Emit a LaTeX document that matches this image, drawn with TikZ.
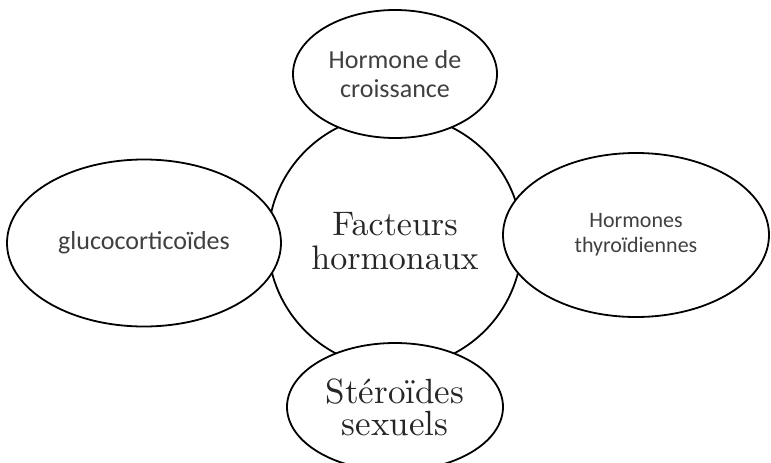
\documentclass[tikz,border=0pt]{standalone}
\usepackage{fontspec}
\newfontfamily\carlito{Carlito}
\newfontfamily\lmten{lmroman10-regular}[Extension=.otf]
\usetikzlibrary{shapes.geometric}
\tikzset{
  every picture/.style={line width=1.8pt},
  hub/.style={draw, circle, fill=white, minimum size=254pt, inner sep=0pt, align=center,
              text=black!85, font=\lmten\fontsize{34}{34}\selectfont},
  bubble/.style={draw, ellipse, fill=white, inner sep=0pt, align=center},
  sans/.style={text=black!75},
}

\begin{document}
\begin{tikzpicture}[x=1pt, y=-1pt]
  \useasboundingbox (0,0) rectangle (771,463);
  % the hub first, the bubbles sit on top of it
  \node[hub] (hub) at (395,241) {Facteurs\\ hormonaux};
  \node[bubble, sans, minimum width=204pt, minimum height=128pt,
        font=\carlito\fontsize{26}{29}\selectfont] (gh) at (395,74) {Hormone de\\ croissance};
  \node[bubble, sans, minimum width=274pt, minimum height=167pt,
        font=\carlito\fontsize{26}{29}\selectfont] (gluco) at (144,243) {glucocorticoïdes};
  \node[bubble, sans, minimum width=266pt, minimum height=164pt,
        font=\carlito\fontsize{22}{25}\selectfont] (thyro) at (636,235) {Hormones\\ thyroïdiennes};
  \node[bubble, minimum width=216pt, minimum height=128pt, text=black!85,
        font=\lmten\fontsize{35}{32}\selectfont] (sex) at (395,407) {Stéroïdes\\ sexuels};
\end{tikzpicture}
\end{document}
